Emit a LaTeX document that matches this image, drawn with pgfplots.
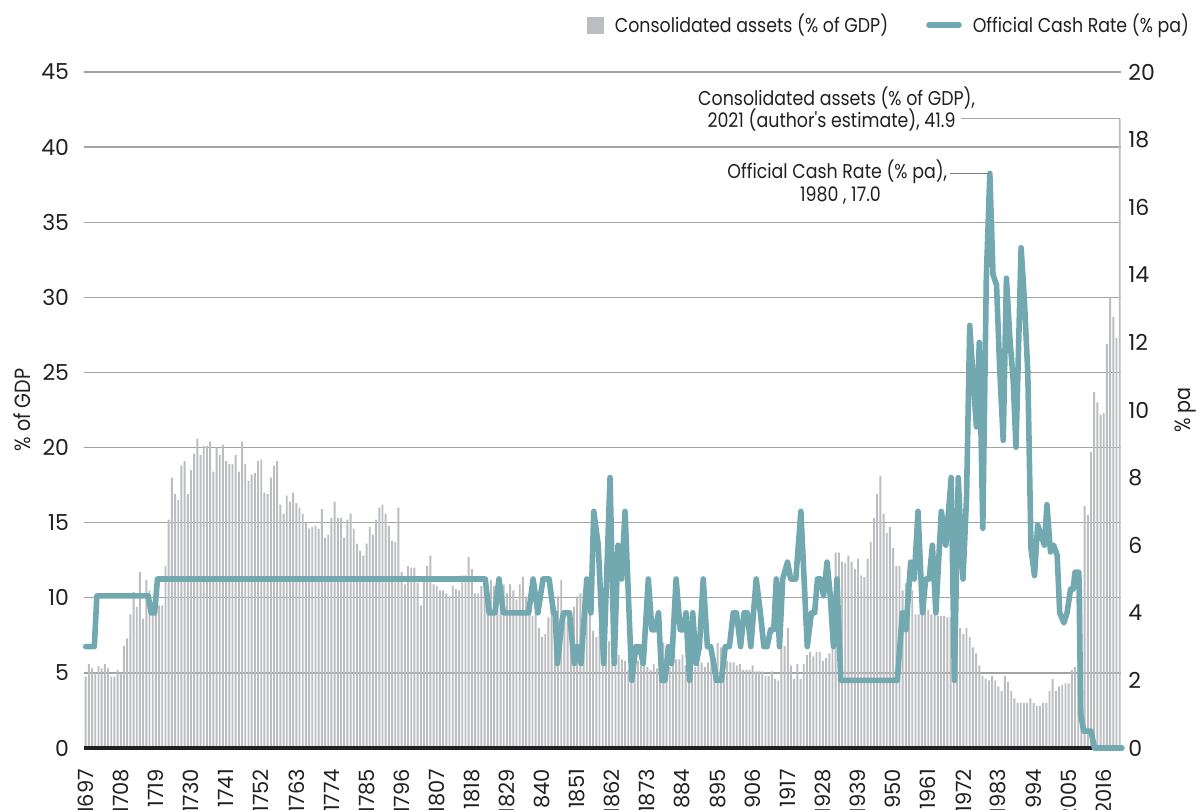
\documentclass[border=0pt]{standalone}
\usepackage{fontspec}
\setmainfont{Poppins}
\newfontfamily\narrowfont[FakeStretch=0.87]{Poppins}
\usepackage{pgfplots}
\usepackage{pgfplotstable}
\pgfplotsset{compat=1.18}
\definecolor{bargray}{HTML}{BCBDC0}
\definecolor{ocrteal}{HTML}{72A9B1}
\definecolor{gridgray}{HTML}{A3A3A3}
\definecolor{basek}{HTML}{231F20}
\definecolor{txt}{HTML}{231F20}

\pgfplotstableread{
year assets
1697 4.75
1698 5.6
1699 5.3
1700 5.0
1701 5.45
1702 5.3
1703 5.6
1704 5.3
1705 4.75
1706 4.75
1707 5.2
1708 5.0
1709 6.8
1710 7.3
1711 8.9
1712 10.4
1713 9.4
1714 11.7
1715 8.6
1716 11.2
1717 10.5
1718 9.7
1719 9.0
1720 9.5
1721 9.5
1722 12.1
1723 15.2
1724 18.0
1725 16.9
1726 16.5
1727 18.8
1728 19.1
1729 16.9
1730 18.5
1731 19.6
1732 20.6
1733 19.5
1734 20.1
1735 20.1
1736 20.4
1737 18.4
1738 20.0
1739 19.5
1740 20.2
1741 19.1
1742 18.9
1743 18.9
1744 19.5
1745 18.4
1746 20.4
1747 18.9
1748 17.8
1749 18.2
1750 18.3
1751 19.1
1752 19.2
1753 17.0
1754 16.9
1755 18.0
1756 18.8
1757 19.1
1758 16.2
1759 15.6
1760 16.8
1761 16.4
1762 17.0
1763 16.3
1764 16.0
1765 15.6
1766 15.0
1767 14.6
1768 14.7
1769 14.8
1770 14.6
1771 15.9
1772 14.0
1773 14.2
1774 15.3
1775 16.4
1776 15.3
1777 15.3
1778 14.0
1779 15.2
1780 15.6
1781 14.6
1782 13.6
1783 13.1
1784 12.8
1785 13.6
1786 14.7
1787 14.2
1788 15.2
1789 16.0
1790 16.2
1791 15.6
1792 14.8
1793 13.8
1794 13.7
1795 16.0
1796 11.7
1797 10.9
1798 12.1
1799 12.0
1800 12.0
1801 11.0
1802 9.5
1803 11.2
1804 12.1
1805 12.8
1806 10.9
1807 10.8
1808 10.5
1809 10.5
1810 10.3
1811 10.1
1812 10.8
1813 10.6
1814 10.5
1815 11.5
1816 11.5
1817 12.7
1818 11.9
1819 10.3
1820 10.3
1821 10.8
1822 11.1
1823 10.5
1824 11.2
1825 10.8
1826 9.9
1827 10.3
1828 10.9
1829 10.3
1830 10.9
1831 10.5
1832 9.9
1833 10.9
1834 11.4
1835 10.1
1836 10.1
1837 8.8
1838 10.0
1839 8.0
1840 7.4
1841 7.6
1842 8.7
1843 9.1
1844 9.4
1845 10.1
1846 11.2
1847 8.8
1848 8.5
1849 7.7
1850 9.4
1851 10.1
1852 10.3
1853 10.3
1854 9.4
1855 8.9
1856 7.8
1857 7.4
1858 8.0
1859 7.5
1860 8.5
1861 7.1
1862 6.5
1863 6.5
1864 6.2
1865 5.9
1866 5.8
1867 5.2
1868 5.2
1869 5.6
1870 5.8
1871 5.8
1872 6.1
1873 5.4
1874 5.2
1875 5.6
1876 5.3
1877 5.2
1878 7.0
1879 6.8
1880 5.4
1881 5.9
1882 5.9
1883 5.9
1884 6.2
1885 5.5
1886 5.6
1887 5.7
1888 5.4
1889 5.6
1890 5.7
1891 5.4
1892 5.7
1893 5.9
1894 5.7
1895 7.0
1896 6.7
1897 6.1
1898 5.8
1899 5.7
1900 5.7
1901 5.5
1902 5.6
1903 5.2
1904 5.2
1905 5.2
1906 5.5
1907 5.1
1908 5.1
1909 5.1
1910 4.8
1911 4.8
1912 5.1
1913 4.6
1914 4.5
1915 6.8
1916 6.8
1917 8.0
1918 5.5
1919 4.6
1920 5.6
1921 4.6
1922 5.6
1923 6.2
1924 6.4
1925 6.1
1926 6.4
1927 6.4
1928 5.8
1929 6.0
1930 6.3
1931 6.6
1932 13.0
1933 13.0
1934 12.4
1935 12.3
1936 12.8
1937 12.4
1938 11.9
1939 12.6
1940 11.5
1941 11.4
1942 12.6
1943 13.7
1944 15.3
1945 16.9
1946 18.1
1947 15.6
1948 14.3
1949 14.7
1950 13.3
1951 12.1
1952 12.1
1953 10.5
1954 11.0
1955 11.2
1956 10.5
1957 8.9
1958 8.9
1959 10.2
1960 9.5
1961 9.2
1962 8.9
1963 8.9
1964 8.8
1965 8.8
1966 8.8
1967 8.7
1968 8.7
1969 8.5
1970 8.0
1971 8.0
1972 7.6
1973 8.0
1974 7.4
1975 6.7
1976 6.3
1977 5.5
1978 4.8
1979 4.6
1980 4.5
1981 4.8
1982 4.5
1983 4.1
1984 3.8
1985 4.8
1986 4.4
1987 3.8
1988 3.3
1989 3.0
1990 3.0
1991 3.0
1992 3.0
1993 3.3
1994 3.0
1995 2.8
1996 2.8
1997 3.0
1998 3.0
1999 3.8
2000 4.6
2001 3.8
2002 4.1
2003 4.2
2004 4.3
2005 4.3
2006 5.2
2007 5.4
2008 10.5
2009 10.6
2010 16.1
2011 15.5
2012 19.7
2013 23.7
2014 23.0
2015 22.2
2016 22.3
2017 26.9
2018 30.0
2019 28.7
2020 27.3
2021 41.9
}\assets

\pgfplotstableread{
year ocr
1697 3.0
1699.7 3.0
1700.5 4.5
1716.6 4.5
1717.5 4.0
1718.6 4.0
1719.5 5.0
1822.2 5.0
1823.4 4.0
1825.2 4.0
1826.5 5.0
1827.9 4.0
1835.8 4.0
1837.2 5.0
1838.7 4.0
1840.3 5.0
1842.2 5.0
1843.6 4.0
1844.1 4.0
1844.8 2.5
1846.3 3.8
1846.8 4.0
1848.6 4.0
1850.1 2.5
1851.1 3.0
1852.2 2.5
1854.0 5.0
1855.3 4.0
1856.2 7.0
1857.6 6.0
1859.3 2.5
1861.3 8.0
1862.6 2.5
1863.8 6.0
1864.9 5.0
1866.0 7.0
1868.1 2.0
1869.4 3.0
1870.5 3.0
1871.7 2.5
1873.3 5.0
1874.4 3.5
1875.4 3.5
1876.5 4.0
1877.5 2.0
1878.5 2.0
1879.6 3.0
1880.6 2.5
1882.0 5.0
1883.3 3.5
1884.3 3.5
1885.1 4.0
1886.2 2.0
1887.2 4.0
1888.3 2.5
1889.3 3.0
1890.5 5.0
1891.8 3.0
1892.8 3.0
1893.8 2.5
1894.6 2.0
1896.2 2.0
1897.4 3.0
1898.7 3.0
1899.9 4.0
1900.9 4.0
1902.2 3.0
1903.3 4.0
1904.3 4.0
1905.4 3.0
1907.1 5.0
1908.4 4.0
1909.5 3.0
1910.5 3.0
1911.6 3.5
1912.6 3.5
1913.4 5.0
1914.4 3.0
1915.4 5.0
1916.9 5.5
1917.9 5.0
1919.5 5.0
1921.1 7.0
1923.1 3.0
1924.4 4.0
1925.4 4.0
1926.3 5.0
1927.3 5.0
1928.2 4.5
1929.3 5.5
1930.3 4.5
1931.3 3.0
1932.4 5.0
1933.6 2.0
1951.3 2.0
1952.9 4.0
1954.0 3.5
1955.5 5.5
1956.6 5.0
1957.8 7.0
1959.2 4.0
1960.2 5.0
1961.3 5.0
1962.3 6.0
1963.4 4.0
1965.1 7.0
1966.5 6.0
1968.2 8.0
1969.2 2.0
1970.4 8.0
1971.9 5.0
1973.0 7.4
1974.0 12.5
1975.3 10.6
1976.1 9.5
1977.0 12.0
1978.1 6.5
1979.2 13.9
1980.3 17.0
1981.3 14.0
1982.4 13.7
1983.4 11.2
1984.5 9.1
1985.5 13.9
1986.6 12.1
1987.6 10.9
1988.5 8.9
1990.1 14.8
1991.1 13.3
1992.2 11.1
1993.2 5.9
1994.3 5.1
1995.3 6.6
1996.4 6.3
1997.4 6.0
1998.2 7.2
1999.3 5.8
2000.3 6.0
2001.4 5.7
2002.2 4.0
2003.5 3.7
2004.5 4.0
2005.6 4.7
2006.4 4.7
2007.0 5.2
2008.2 5.2
2008.8 1.0
2009.7 0.5
2012.0 0.5
2013.1 0.0
2021.7 0.0
}\ocr

\pgfplotsset{
  base/.style={
    width=518.6pt, height=338pt, scale only axis,
    xmin=1696.5, xmax=2021.5, clip=false,
    axis line style={draw=none}, major tick length=0pt,
    /pgf/number format/assume math mode=true,
    /pgf/number format/1000 sep={},
    ticklabel style={font=\fontsize{11}{13}\selectfont, text=txt},
    label style={font=\narrowfont\fontsize{11}{13}\selectfont, text=txt},
  }
}
\tikzset{ann/.style={font=\narrowfont\fontsize{10}{12}\selectfont, text=txt, inner sep=1pt}}

\begin{document}
\begin{tikzpicture}
\begin{axis}[base, name=ax,
  ymin=0, ymax=45, ytick={0,5,...,45},
  ymajorgrids, grid style={gridgray, line width=0.65pt},
  xtick={1697,1708,...,2016},
  xticklabel style={rotate=90, anchor=east, font=\fontsize{10.5}{12}\selectfont},
  xticklabel shift=7pt,
  yticklabel shift=4pt,
  ylabel={\% of GDP},
  y label style={at={(axis description cs:-0.06,0.5)}, anchor=center, rotate=0},
]
\addplot[ybar, bar width=0.6, fill=bargray, draw=none] table[x=year, y=assets] {\assets};
\draw[basek, line width=1.6pt] (axis cs:1696.5,0) -- (axis cs:2021.5,0);
\draw[gridgray, line width=0.6pt] (axis cs:1971.2,41.9) -- (axis cs:2021,41.9);
\node[ann, anchor=center] at (axis cs:1932.3,43.28) {Consolidated assets (\% of GDP),};
\node[ann, anchor=east] at (axis cs:1970.3,41.8) {2021 (author's estimate), 41.9};
\end{axis}
\begin{axis}[base,
  ymin=0, ymax=20, ytick={0,2,...,20},
  xtick=\empty,
  yticklabel pos=right,
  ylabel={\% pa},
  y label style={at={(axis description cs:1.062,0.5)}, anchor=center, rotate=0},
  legend columns=2,
  legend style={draw=none, fill=none, at={(axis description cs:0.4845,1.0695)}, anchor=west,
    font=\narrowfont\fontsize{10}{12}\selectfont, text=txt, inner sep=0pt, column sep=3.5pt,
    /tikz/every even column/.append style={column sep=17pt}},
]
\addlegendimage{legend image code/.code={\fill[bargray] (0pt,-4pt) rectangle (8pt,4pt);}}
\addlegendentry{Consolidated assets (\% of GDP)}
\addplot[ocrteal, line width=2.8pt, line join=round, line cap=round,
  legend image code/.code={\draw[ocrteal, line width=2.8pt, line cap=round] (0pt,0pt) -- (15pt,0pt);}]
  table[x=year, y=ocr] {\ocr};
\addlegendentry{Official Cash Rate (\% pa)}
\draw[gridgray!80!black, line width=0.6pt] (axis cs:1967.9,17) -- (axis cs:1980.2,17);
\node[ann, anchor=center] at (axis cs:1932.5,17.04) {Official Cash Rate (\% pa),};
\node[ann, anchor=center] at (axis cs:1933.5,16.33) {1980 , 17.0};
\end{axis}
\pgfresetboundingbox
\path[use as bounding box] (ax.south west) ++(-42.05pt,-30.5pt) rectangle ++(598.5pt,404.5pt);
\end{tikzpicture}
\end{document}
